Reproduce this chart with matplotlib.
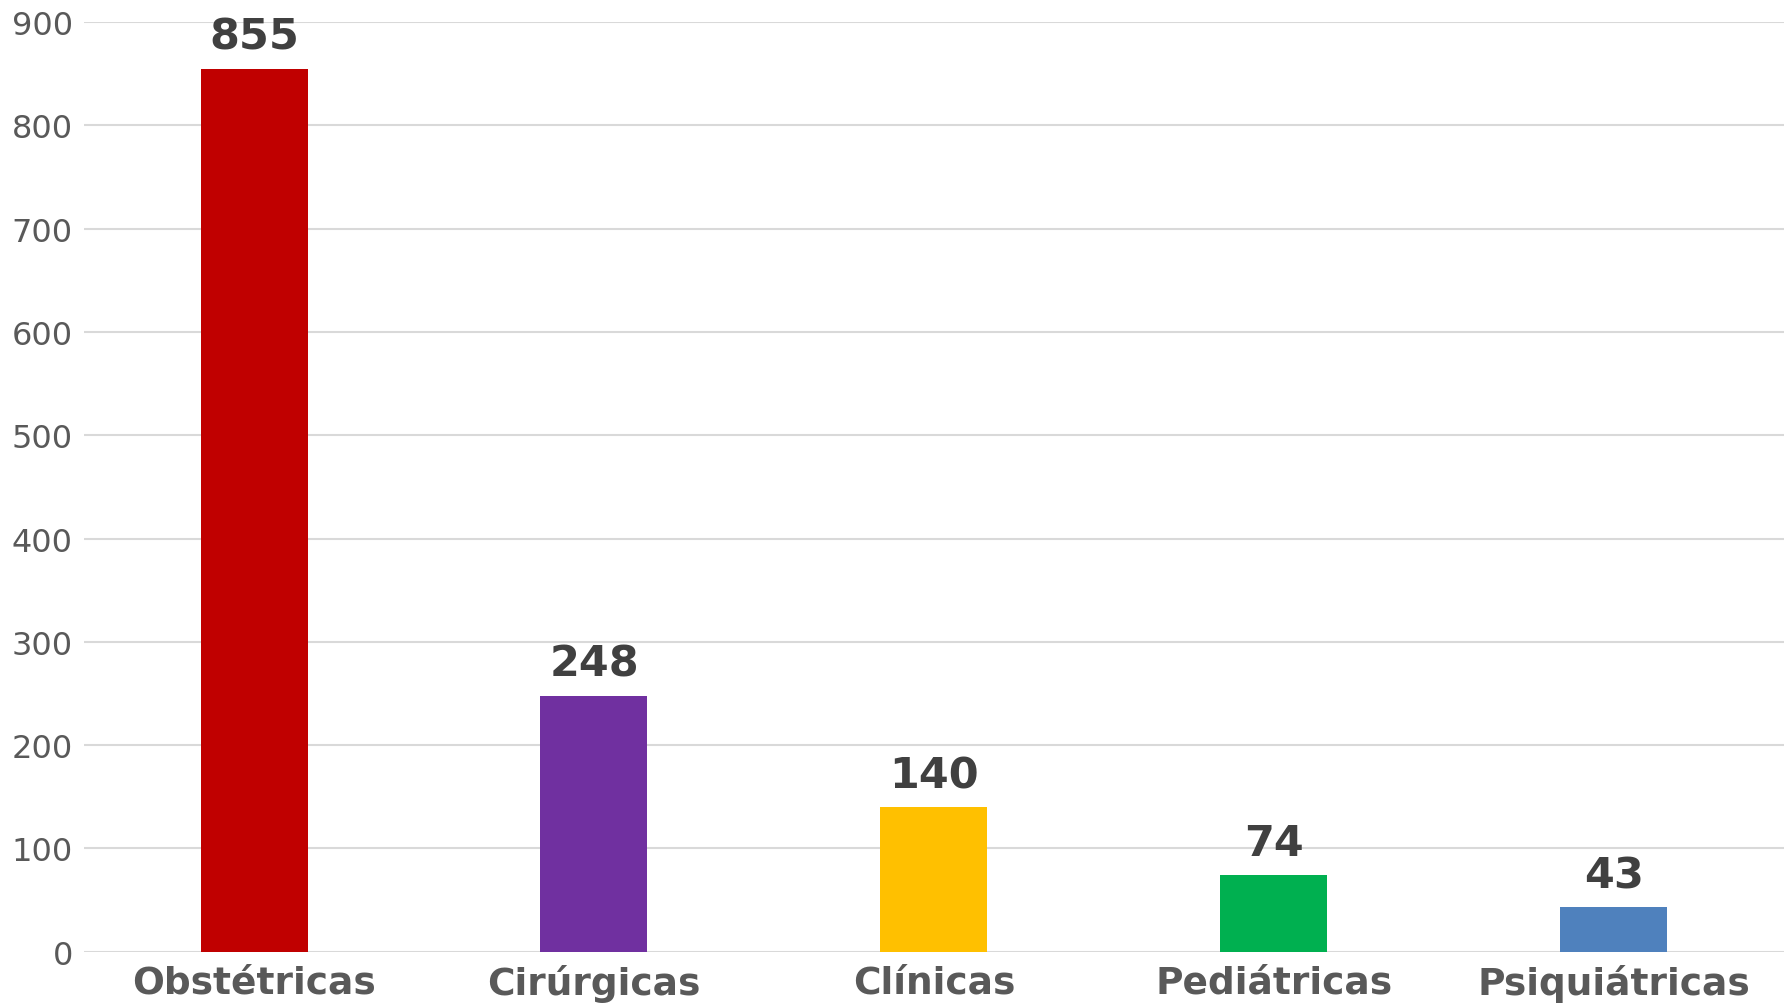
import matplotlib.pyplot as plt
import numpy as np

categorias = ["Obstétricas", "Cirúrgicas", "Clínicas", "Pediátricas", "Psiquiátricas"]
valores = [855, 248, 140, 74, 43]
cores = ["#C00000", "#7030A0", "#FFC000", "#00B050", "#4F81BD"]

fig = plt.figure(figsize=(17.89, 10.04), dpi=100)
ax = fig.add_axes([0.047, 0.051, 0.950, 0.926])

x = np.arange(len(categorias))
barras = ax.bar(x, valores, width=0.315, color=cores, zorder=3)

for b, v in zip(barras, valores):
    ax.annotate(str(v), (b.get_x() + b.get_width() / 2, v),
                xytext=(0, 8), textcoords="offset points",
                ha="center", va="bottom", fontsize=31, fontweight="bold",
                color="#404040")

ax.set_xlim(-0.5, 4.5)
ax.set_ylim(0, 900)
ax.set_yticks(range(0, 901, 100))
ax.set_xticks(x)
ax.set_xticklabels(categorias, fontsize=27, fontweight="bold", color="#595959")
ax.tick_params(axis="y", labelsize=23, labelcolor="#595959", length=0, pad=8)
ax.tick_params(axis="x", length=0, pad=9)
ax.grid(axis="y", color="#d9d9d9", linewidth=1.5, zorder=0)
for s in ax.spines.values():
    s.set_visible(False)

fig.savefig("out.png", dpi=100)
